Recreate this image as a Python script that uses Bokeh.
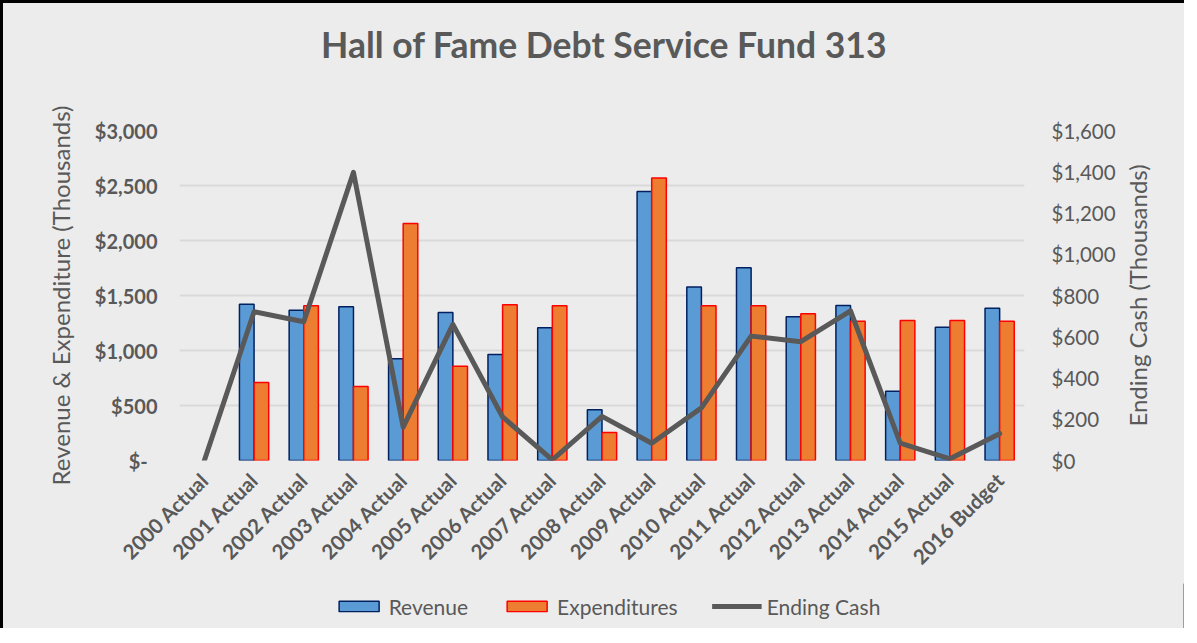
import math
from bokeh.plotting import figure
from bokeh.layouts import column, row
from bokeh.models import (FactorRange, Range1d, LinearAxis, FixedTicker, CustomJSTickFormatter,
                          Legend, LegendItem, ColumnDataSource, Title)
from bokeh.core.properties import value
from bokeh.transform import dodge
from bokeh.embed import file_html
from bokeh.resources import INLINE

nan = float("nan")

chart_title = "Hall of Fame Debt Service Fund 313"
categories = ["2000 Actual", "2001 Actual", "2002 Actual", "2003 Actual", "2004 Actual",
              "2005 Actual", "2006 Actual", "2007 Actual", "2008 Actual", "2009 Actual",
              "2010 Actual", "2011 Actual", "2012 Actual", "2013 Actual", "2014 Actual",
              "2015 Actual", "2016 Budget"]
revenue = [nan, 1420, 1365, 1398, 924, 1346, 963, 1206, 462, 2446,
           1577, 1753, 1306, 1410, 629, 1212, 1383]
expenditures = [nan, 708, 1407, 672, 2154, 857, 1416, 1407, 255, 2568,
                1407, 1407, 1334, 1267, 1273, 1273, 1267]
ending_cash = [0, 721, 673, 1397, 162, 660, 211, 3, 214, 84,
               255, 603, 576, 726, 84, 8, 130]

left_ticks = [0, 500, 1000, 1500, 2000, 2500, 3000]
right_ticks = [0, 200, 400, 600, 800, 1000, 1200, 1400, 1600]

BG = "#ECECEC"
TXT = "#595959"
FONT = "Lato"
REV_FILL, REV_LINE = "#5B9BD5", "#002060"
EXP_FILL, EXP_LINE = "#ED7D31", "#FF0000"
CASH_LINE = "#595959"

common = dict(output_backend="svg", toolbar_location=None, title=None,
              background_fill_color=BG, border_fill_color=BG, outline_line_color=None)

# ---------- title strip ----------
tf = figure(width=1181, height=94, x_range=Range1d(0, 1181), y_range=Range1d(0, 94),
            x_axis_location=None, y_axis_location=None,
            min_border_left=0, min_border_right=0, min_border_top=0, min_border_bottom=0, **common)
tf.grid.visible = False
tf.text(x=[587], y=[53], text=[chart_title], text_align="center", text_baseline="middle",
        text_font=value(FONT), text_font_size="35.5px", text_font_style="bold", text_color=TXT)

# ---------- main chart ----------
src = ColumnDataSource(dict(cat=categories, rev=revenue, exp=expenditures, cash=ending_cash))

p = figure(x_range=FactorRange(*categories), y_range=Range1d(0, 3000),
           width=1117, height=486,
           min_border_left=176, min_border_right=96, min_border_top=33, min_border_bottom=123,
           **common)
p.extra_y_ranges = {"cash": Range1d(0, 1600)}

r1 = p.vbar(x=dodge("cat", -0.147, range=p.x_range), top="rev", width=0.294, source=src,
            fill_color=REV_FILL, line_color=REV_LINE, line_width=1.5)
r2 = p.vbar(x=dodge("cat", 0.147, range=p.x_range), top="exp", width=0.294, source=src,
            fill_color=EXP_FILL, line_color=EXP_LINE, line_width=1.5)
r3 = p.line(x="cat", y="cash", y_range_name="cash", source=src,
            line_color=CASH_LINE, line_width=5, line_join="round", line_cap="round")

p.xgrid.grid_line_color = None
p.ygrid.grid_line_color = "#D9D9D9"
p.ygrid.grid_line_width = 2
p.ygrid.ticker = FixedTicker(ticks=left_ticks)

la = p.yaxis[0]
la.ticker = FixedTicker(ticks=left_ticks)
la.formatter = CustomJSTickFormatter(
    code="return tick == 0 ? '$-\\u00a0\\u00a0' : '$' + tick.toLocaleString('en-US');")
la.axis_label = "Revenue & Expenditure (Thousands)"

ra = LinearAxis(y_range_name="cash", ticker=FixedTicker(ticks=right_ticks),
                formatter=CustomJSTickFormatter(code="return '$' + tick.toLocaleString('en-US');"))
p.add_layout(ra, "right")

for ax in (la, ra):
    ax.axis_line_color = None
    ax.major_tick_line_color = None
    ax.minor_tick_line_color = None
    ax.major_tick_out = 0
    ax.major_tick_in = 0
    ax.major_label_text_font = FONT
    ax.major_label_text_color = TXT

la.axis_label_text_font = FONT
la.axis_label_text_color = TXT
la.axis_label_text_font_style = "normal"
la.axis_label_text_font_size = "24px"
la.major_label_text_font_size = "20px"
la.major_label_text_font_style = "bold"
la.major_label_standoff = 22
la.axis_label_standoff = 17
ra.major_label_text_font_size = "20.5px"
ra.major_label_standoff = 27

xa = p.xaxis[0]
xa.axis_line_color = None
xa.major_tick_line_color = None
xa.major_tick_out = 0
xa.major_tick_in = 0
xa.major_label_orientation = math.pi / 4
xa.major_label_text_font = FONT
xa.major_label_text_font_size = "20.5px"
xa.major_label_text_font_style = "bold"
xa.major_label_text_color = TXT
xa.major_label_standoff = 16

# ---------- right axis title strip ----------
rl = figure(width=64, height=486, x_range=Range1d(0, 1), y_range=Range1d(0, 1),
            x_axis_location=None, y_axis_location=None,
            min_border_left=0, min_border_right=0, min_border_top=33, min_border_bottom=123,
            **common)
rl.grid.visible = False
rl.add_layout(Title(text="Ending Cash (Thousands)", align="center", text_font=FONT,
                    text_font_size="24px", text_font_style="normal", text_color=TXT,
                    standoff=0), "left")

# ---------- legend strip ----------
lf = figure(width=1181, height=45, x_range=Range1d(0, 1), y_range=Range1d(0, 1),
            x_axis_location=None, y_axis_location=None,
            min_border_left=27, min_border_right=0, min_border_top=0, min_border_bottom=0,
            **common)
lf.grid.visible = False
# off-range stand-ins that only supply the legend swatches
d1 = lf.vbar(x=[10], top=[10], width=0.1, fill_color=REV_FILL, line_color=REV_LINE, line_width=1.5)
d2 = lf.vbar(x=[10], top=[10], width=0.1, fill_color=EXP_FILL, line_color=EXP_LINE, line_width=1.5)
d3 = lf.line(x=[10, 11], y=[10, 10], line_color=CASH_LINE, line_width=5)
legend = Legend(items=[LegendItem(label="Revenue", renderers=[d1]),
                       LegendItem(label="Expenditures", renderers=[d2]),
                       LegendItem(label="Ending Cash", renderers=[d3])],
                location="center", orientation="horizontal",
                glyph_width=50, glyph_height=13, label_standoff=5, spacing=34,
                padding=0, margin=0, background_fill_alpha=0, border_line_color=None,
                label_text_font=FONT, label_text_font_size="21px", label_text_color=TXT,
                label_height=20)
lf.add_layout(legend)

layout = column(tf, row(p, rl), lf)
layout.styles = {"border-top": "3px solid black", "border-left": "3px solid black",
                 "background-color": BG}

open("out.html", "w").write(file_html(layout, INLINE))
